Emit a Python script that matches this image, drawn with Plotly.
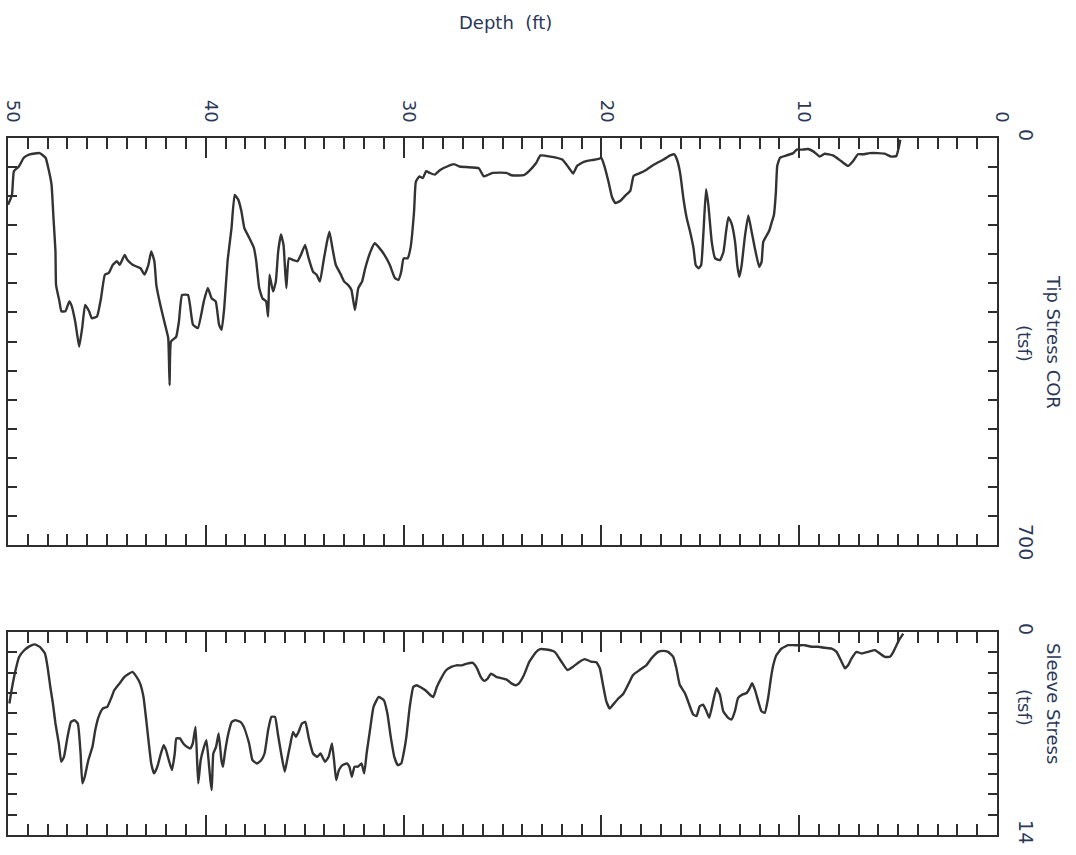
import plotly.graph_objects as go

# ---------------- data ----------------
tip_depth = [50.0, 49.8, 49.7, 49.45, 49.2, 48.9, 48.4, 48.1, 47.96, 47.8, 47.7, 47.6, 47.57, 47.4, 47.3,
             47.1, 46.9, 46.8, 46.6, 46.5, 46.4, 46.25, 46.1, 45.9, 45.76, 45.5, 45.3, 45.1, 44.9, 44.7,
             44.5, 44.35, 44.1, 43.96, 43.7, 43.5, 43.3, 43.1, 42.9, 42.76, 42.6, 42.5, 42.3, 42.06, 41.9,
             41.83, 41.76, 41.5, 41.36, 41.2, 40.9, 40.8, 40.65, 40.4, 40.1, 39.9, 39.7, 39.5, 39.33, 39.2,
             39.07, 38.9, 38.7, 38.54, 38.36, 38.2, 38.05, 37.8, 37.57, 37.45, 37.3, 37.13, 36.95, 36.85, 36.78,
             36.6, 36.46, 36.34, 36.2, 36.07, 35.93, 35.8, 35.58, 35.37, 35.19, 34.98, 34.8, 34.58, 34.4, 34.23,
             34.05, 33.87, 33.75, 33.6, 33.43, 33.17, 33.0, 32.8, 32.64, 32.46, 32.29, 32.1, 31.94, 31.67, 31.46,
             31.23, 30.97, 30.7, 30.44, 30.26, 30.12, 30.0, 29.8, 29.65, 29.47, 29.38, 29.2, 29.03, 28.86, 28.68,
             28.42, 28.15, 27.8, 27.45, 27.18, 26.83, 26.2, 25.95, 25.77, 25.5, 24.8, 24.54, 23.93, 23.66, 23.3,
             23.08, 22.57, 21.98, 21.65, 21.43, 21.23, 20.89, 20.47, 20.13, 20.0, 19.85, 19.63, 19.46, 19.29, 19.04,
             18.79, 18.54, 18.37, 18.03, 17.70, 17.45, 17.19, 16.86, 16.52, 16.32, 16.18, 16.02, 15.85, 15.68, 15.51,
             15.34, 15.23, 15.09, 14.96, 14.84, 14.71, 14.59, 14.42, 14.25, 14.0, 13.83, 13.70, 13.58, 13.41, 13.24,
             13.13, 13.03, 12.91, 12.74, 12.57, 12.40, 12.24, 12.02, 11.90, 11.82, 11.65, 11.51, 11.39, 11.28, 11.18,
             11.11, 10.97, 10.64, 10.30, 10.13, 9.88, 9.55, 9.29, 8.96, 8.71, 8.29, 7.87, 7.53, 7.28, 7.03,
             6.77, 6.44, 6.02, 5.68, 5.34, 5.09, 4.92, 4.89]
tip_stress = [115, 98, 57, 49, 34, 28, 26, 34, 52, 80, 138, 195, 253, 281, 298,
              298, 281, 287, 316, 339, 359, 327, 287, 298, 310, 307, 276, 235, 232, 218,
              212, 218, 201, 210, 218, 221, 224, 235, 218, 195, 212, 253, 287, 321, 344,
              425, 350, 342, 316, 270, 270, 287, 321, 327, 281, 258, 276, 281, 321, 330,
              293, 212, 155, 98, 106, 126, 155, 172, 189, 212, 258, 276, 281, 307, 235,
              264, 247, 195, 166, 184, 258, 207, 210, 212, 201, 184, 207, 230, 235, 247,
              212, 178, 161, 189, 218, 235, 247, 253, 261, 296, 258, 247, 224, 195, 181,
              189, 201, 218, 241, 244, 230, 207, 207, 189, 126, 75, 66, 69, 57, 60,
              63, 55, 49, 45, 49, 50, 52, 66, 64, 60, 60, 64, 64, 57, 43,
              30, 32, 37, 51, 61, 48, 41, 38, 36, 34, 48, 77, 102, 112, 108,
              99, 91, 65, 60, 54, 48, 43, 37, 30, 28, 37, 60, 105, 139, 162,
              190, 219, 224, 219, 162, 88, 116, 179, 207, 210, 196, 162, 136, 148, 179,
              219, 239, 219, 168, 133, 162, 190, 222, 213, 179, 168, 159, 145, 133, 94,
              48, 34, 30, 26, 20, 20, 19, 23, 32, 27, 30, 40, 48, 40, 28,
              28, 26, 26, 27, 32, 31, 9, 3]

sleeve_depth = [49.93, 49.79, 49.62, 49.44, 49.18, 48.92, 48.65, 48.39, 48.13, 48.0, 47.86, 47.73, 47.6, 47.43, 47.31,
                47.17, 46.99, 46.82, 46.64, 46.47, 46.33, 46.24, 46.12, 45.94, 45.73, 45.59, 45.42, 45.21, 44.98, 44.76,
                44.63, 44.37, 44.11, 43.93, 43.71, 43.50, 43.32, 43.15, 43.01, 42.88, 42.76, 42.62, 42.45, 42.27, 42.13,
                42.01, 41.87, 41.71, 41.57, 41.49, 41.31, 41.14, 40.96, 40.79, 40.66, 40.52, 40.44, 40.38, 40.26, 40.09,
                39.97, 39.86, 39.77, 39.70, 39.62, 39.48, 39.35, 39.21, 39.13, 39.04, 38.86, 38.69, 38.51, 38.25, 38.08,
                37.81, 37.64, 37.41, 37.20, 37.03, 36.85, 36.68, 36.50, 36.36, 36.19, 36.01, 35.89, 35.72, 35.59, 35.45,
                35.31, 35.14, 34.97, 34.79, 34.58, 34.37, 34.20, 33.97, 33.79, 33.62, 33.50, 33.41, 33.27, 33.09, 32.87,
                32.74, 32.62, 32.48, 32.31, 32.13, 31.99, 31.87, 31.70, 31.52, 31.26, 31.0, 30.82, 30.65, 30.47, 30.30,
                30.12, 30.0, 29.86, 29.69, 29.51, 29.34, 29.16, 28.90, 28.64, 28.50, 28.32, 28.11, 27.85, 27.59, 27.33,
                27.06, 26.80, 26.50, 26.28, 26.10, 25.93, 25.75, 25.58, 25.31, 24.79, 24.53, 24.35, 24.18, 23.92, 23.65,
                23.30, 23.10, 22.78, 22.36, 22.02, 21.72, 21.43, 21.10, 20.84, 20.51, 20.25, 20.08, 19.92, 19.75, 19.58,
                19.41, 19.12, 18.90, 18.65, 18.40, 18.06, 17.72, 17.47, 17.13, 16.88, 16.63, 16.37, 16.21, 16.04, 15.78,
                15.62, 15.36, 15.19, 15.03, 14.86, 14.69, 14.55, 14.35, 14.18, 14.01, 13.84, 13.59, 13.42, 13.25, 13.09,
                12.88, 12.66, 12.50, 12.38, 12.24, 12.07, 11.91, 11.74, 11.57, 11.43, 11.31, 11.15, 10.89, 10.56, 10.22,
                9.97, 9.71, 9.38, 9.04, 8.70, 8.36, 8.11, 7.86, 7.69, 7.52, 7.35, 7.10, 6.85, 6.51, 6.17,
                5.92, 5.67, 5.41, 5.24, 5.08, 4.91, 4.74]
sleeve_stress = [4.93, 3.79, 2.64, 1.72, 1.26, 0.99, 0.85, 1.03, 1.49, 2.41, 3.79, 4.93, 6.31, 7.69, 8.95,
                 8.61, 7.23, 6.20, 6.08, 6.31, 8.38, 10.44, 9.98, 8.84, 7.92, 6.77, 5.85, 5.28, 5.16, 4.48,
                 4.02, 3.56, 3.10, 2.91, 2.75, 3.10, 3.56, 4.48, 6.08, 7.69, 9.07, 9.75, 9.29, 8.38, 7.80,
                 8.15, 8.84, 9.52, 8.38, 7.34, 7.34, 7.69, 7.92, 8.03, 7.69, 6.54, 8.84, 10.44, 8.84, 7.92,
                 7.46, 8.84, 10.21, 10.90, 8.38, 7.92, 7.0, 8.84, 9.29, 8.38, 7.0, 6.20, 6.08, 6.20, 6.54,
                 7.69, 8.84, 9.07, 8.84, 8.38, 6.77, 5.85, 5.85, 7.0, 8.38, 9.64, 8.84, 7.69, 6.89, 7.23,
                 6.89, 6.31, 6.20, 7.34, 8.38, 8.61, 8.38, 8.95, 8.61, 7.69, 9.07, 10.21, 9.52, 9.18, 9.07,
                 9.29, 9.98, 9.29, 9.29, 9.07, 9.75, 8.38, 6.77, 5.16, 4.48, 4.70, 5.62, 7.23, 8.61, 9.18,
                 9.07, 8.38, 7.23, 5.16, 3.79, 3.67, 3.79, 4.02, 4.36, 4.48, 3.79, 3.21, 2.64, 2.41, 2.30,
                 2.30, 2.18, 2.13, 2.52, 3.10, 3.37, 3.21, 2.87, 3.10, 3.28, 3.56, 3.67, 3.56, 2.98, 2.07,
                 1.38, 1.18, 1.21, 1.37, 2.05, 2.62, 2.39, 2.05, 1.87, 2.05, 2.09, 2.50, 3.64, 4.78, 5.28,
                 5.01, 4.55, 4.28, 3.64, 2.96, 2.62, 2.28, 1.82, 1.37, 1.30, 1.37, 1.71, 2.50, 3.64, 4.21,
                 4.78, 5.69, 5.80, 5.12, 5.01, 5.46, 5.92, 4.78, 3.87, 4.32, 5.46, 5.92, 6.03, 5.46, 4.55,
                 4.32, 4.21, 3.87, 3.53, 3.98, 4.78, 5.46, 5.58, 4.55, 3.19, 2.28, 1.59, 1.14, 0.91, 0.91,
                 0.91, 0.91, 1.02, 1.02, 1.09, 1.14, 1.37, 2.05, 2.50, 2.28, 1.82, 1.37, 1.48, 1.37, 1.25,
                 1.48, 1.71, 1.71, 1.37, 0.91, 0.46, 0.11]

depth_ticks = [0, 10, 20, 30, 40, 50]
tip_ticks = list(range(0, 701, 50))
tip_ticktext = ["0"] + [""] * 13 + ["700"]
sleeve_ticks = [round(i * 1.4, 2) for i in range(11)]
sleeve_ticktext = ["0"] + [""] * 9 + ["14"]

# ---------------- styling ----------------
W, H = 1076, 855
TEXT = "#2b3858"
LINE = "#2e2e2e"
FONT = "DejaVu Sans"

def px(x):
    return x / W

def py(y):
    return 1 - y / H

fig = go.Figure()
fig.add_trace(go.Scatter(x=tip_depth, y=tip_stress, mode="lines",
                         line=dict(color="#333333", width=2.4, shape="spline", smoothing=0.4),
                         xaxis="x", yaxis="y", showlegend=False, hoverinfo="skip"))
fig.add_trace(go.Scatter(x=sleeve_depth, y=sleeve_stress, mode="lines",
                         line=dict(color="#333333", width=2.4, shape="spline", smoothing=0.4),
                         xaxis="x2", yaxis="y2", showlegend=False, hoverinfo="skip"))

xdom = [px(8), px(997)]
depth_common = dict(
    range=[50, 0], domain=xdom, showgrid=False, zeroline=False, automargin=False,
    showline=True, linecolor=LINE, linewidth=2, mirror="ticks",
    ticks="inside", ticklen=20, tickwidth=2, tickcolor=LINE,
    tickmode="array", tickvals=depth_ticks,
    minor=dict(dtick=1, tick0=0, ticks="inside", ticklen=11, tickwidth=2, tickcolor=LINE, showgrid=False),
)

yaxis_common = dict(side="right", showgrid=False, zeroline=False, automargin=False,
                    showline=True, linecolor=LINE, linewidth=2, mirror="ticks",
                    ticks="inside", ticklen=9, tickwidth=2, tickcolor=LINE,
                    tickmode="array", tickangle=90, ticklabelstandoff=12,
                    ticklabeloverflow="allow",
                    tickfont=dict(family=FONT, size=19, color=TEXT))

fig.update_layout(
    width=W, height=H, autosize=False,
    margin=dict(l=0, r=0, t=0, b=0),
    paper_bgcolor="white", plot_bgcolor="white",
    font=dict(family=FONT, size=17, color=TEXT),
    xaxis=dict(**depth_common, side="top", anchor="y", showticklabels=True, tickangle=90,
               ticklabelstandoff=7, ticklabelshift=-5, ticklabeloverflow="allow",
               tickfont=dict(family=FONT, size=18, color=TEXT)),
    xaxis2=dict(**depth_common, side="top", anchor="y2", showticklabels=False),
    yaxis=dict(**yaxis_common, range=[700, 0], domain=[py(545), py(138)], anchor="x",
               tickvals=tip_ticks, ticktext=tip_ticktext),
    yaxis2=dict(**yaxis_common, range=[14, 0], domain=[py(835), py(632)], anchor="x2",
                tickvals=sleeve_ticks, ticktext=sleeve_ticktext),
)

ann_font = dict(family=FONT, size=18, color=TEXT)
fig.add_annotation(x=px(505), y=py(22), xref="paper", yref="paper", text="Depth  (ft)",
                   showarrow=False, font=ann_font, xanchor="center", yanchor="middle")
fig.add_annotation(x=px(1054), y=py(342), xref="paper", yref="paper", text="Tip Stress COR",
                   showarrow=False, font=ann_font, textangle=90, xanchor="center", yanchor="middle")
fig.add_annotation(x=px(1025), y=py(343), xref="paper", yref="paper", text="(tsf)",
                   showarrow=False, font=ann_font, textangle=90, xanchor="center", yanchor="middle")
fig.add_annotation(x=px(1054), y=py(703), xref="paper", yref="paper", text="Sleeve Stress",
                   showarrow=False, font=ann_font, textangle=90, xanchor="center", yanchor="middle")
fig.add_annotation(x=px(1025), y=py(707), xref="paper", yref="paper", text="(tsf)",
                   showarrow=False, font=ann_font, textangle=90, xanchor="center", yanchor="middle")

# remove the default 8px page margin so the 1076x855 figure fills the window exactly
fig.write_html("out.html", config={"displayModeBar": False},
               post_script="document.body.style.margin='0';")
